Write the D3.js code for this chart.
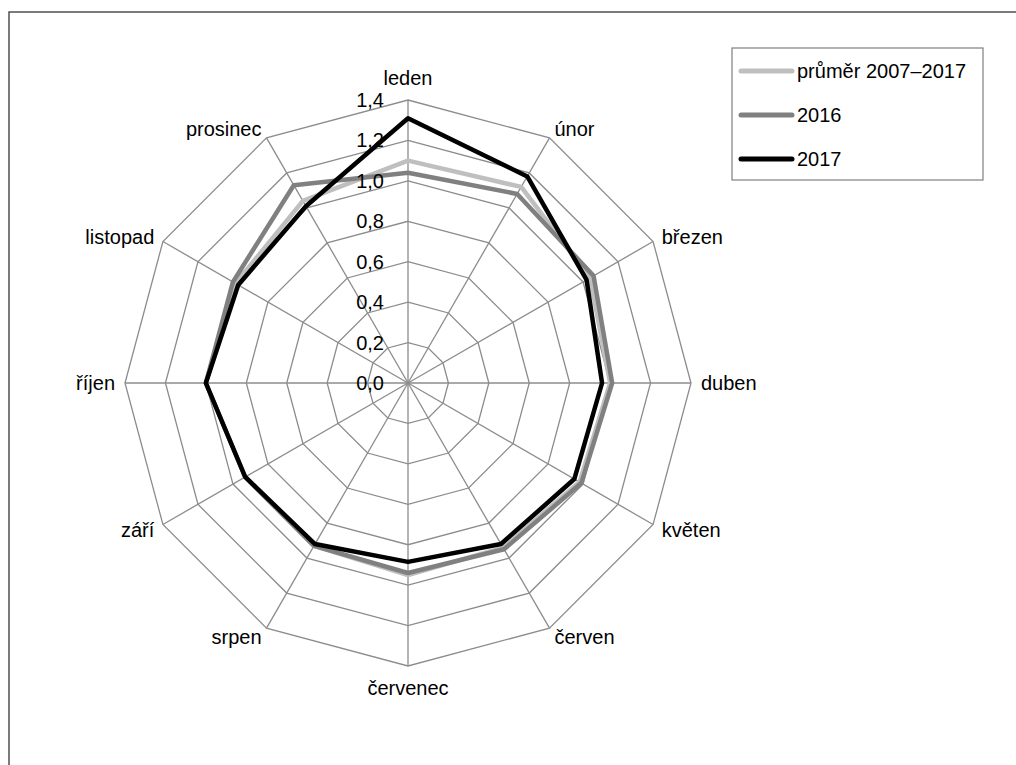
<!DOCTYPE html>
<html>
<head>
<meta charset="utf-8">
<script src="https://cdn.jsdelivr.net/npm/d3@7"></script>
<style>
  body { margin: 0; background: #fff; }
  text { font-family: "Liberation Sans", Arial, sans-serif; fill: #000; }
</style>
</head>
<body>
<div id="chart"></div>
<script>
const months = ["leden", "únor", "březen", "duben", "květen", "červen", "červenec", "srpen", "září", "říjen", "listopad", "prosinec"]
const seriesNames = ["průměr 2007–2017", "2016", "2017"]
const avgValues = [1.10, 1.12, 1.04, 1.00, 0.98, 0.94, 0.95, 0.93, 0.93, 1.00, 0.985, 1.04]
const values2016 = [1.04, 1.08, 1.06, 1.01, 0.99, 0.95, 0.94, 0.93, 0.93, 1.00, 1.00, 1.13]
const values2017 = [1.31, 1.18, 1.02, 0.96, 0.95, 0.92, 0.885, 0.92, 0.93, 1.00, 0.97, 1.01]
const tickValues = [0, 0.2, 0.4, 0.6, 0.8, 1.0, 1.2, 1.4]

const colors = ["#bfbfbf", "#808080", "#000000"]
const allSeries = [avgValues, values2016, values2017]

const width = 1016, height = 765
const cx = 408, cy = 383

const fmt = d3.formatLocale({ decimal: ",", thousands: " ", grouping: [3], currency: ["", " Kč"] }).format(".1f")

const svg = d3.select('#chart').append('svg')
  .attr('width', width)
  .attr('height', height)

// outer frame (runs off the page at right and bottom)
svg.append('rect')
  .attr('x', 9).attr('y', 12)
  .attr('width', 1100).attr('height', 900)
  .attr('fill', '#fff')
  .attr('stroke', '#505050')
  .attr('stroke-width', 1.5)

const r = d3.scaleLinear().domain([0, 1.4]).range([0, 283])
const angle = d3.scaleLinear().domain([0, months.length]).range([0, 2 * Math.PI])

const g = svg.append('g').attr('transform', `translate(${cx},${cy})`)

// rings
const ring = d3.lineRadial()
  .angle((d, i) => angle(i))
  .radius(d => r(d))
  .curve(d3.curveLinearClosed)

g.selectAll('path.ring')
  .data(tickValues.filter(t => t > 0))
  .enter()
  .append('path')
  .attr('class', 'ring')
  .attr('d', t => ring(months.map(() => t)))
  .attr('fill', 'none')
  .attr('stroke', '#8c8c8c')
  .attr('stroke-width', 1.3)

// spokes
g.selectAll('line.spoke')
  .data(months)
  .enter()
  .append('line')
  .attr('class', 'spoke')
  .attr('x1', 0).attr('y1', 0)
  .attr('x2', (d, i) => r(1.4) * Math.sin(angle(i)))
  .attr('y2', (d, i) => -r(1.4) * Math.cos(angle(i)))
  .attr('stroke', '#8c8c8c')
  .attr('stroke-width', 1.3)

// series
g.selectAll('path.series')
  .data(allSeries)
  .enter()
  .append('path')
  .attr('class', 'series')
  .attr('d', d => ring(d))
  .attr('fill', 'none')
  .attr('stroke', (d, i) => colors[i])
  .attr('stroke-width', 4.5)
  .attr('stroke-linejoin', 'round')

// radial tick labels
g.selectAll('text.tick')
  .data(tickValues)
  .enter()
  .append('text')
  .attr('class', 'tick')
  .attr('x', -24)
  .attr('y', d => -r(d))
  .attr('dy', '0.35em')
  .attr('text-anchor', 'end')
  .style('font-size', '20px')
  .text(d => fmt(d))

// category labels
g.selectAll('text.cat')
  .data(months)
  .enter()
  .append('text')
  .attr('class', 'cat')
  .each(function (d, i) {
    const a = angle(i)
    const s = Math.sin(a), c = Math.cos(a)
    const rr = r(1.4) + 10
    const el = d3.select(this)
    el.attr('x', rr * s).attr('y', -rr * c)
    el.attr('text-anchor', Math.abs(s) < 0.01 ? 'middle' : (s > 0 ? 'start' : 'end'))
    if (c > 0.99) el.attr('dy', '-0.25em')
    else if (c < -0.99) el.attr('dy', '0.95em')
    else el.attr('dy', '0.35em')
  })
  .style('font-size', '20px')
  .text(d => d)

// legend
const legend = svg.append('g')
legend.append('rect')
  .attr('x', 732).attr('y', 48)
  .attr('width', 251).attr('height', 132)
  .attr('fill', '#fff')
  .attr('stroke', '#7f7f7f')
  .attr('stroke-width', 1.2)

const ly = d3.scalePoint().domain(seriesNames).range([71, 159])

legend.selectAll('line.key')
  .data(seriesNames)
  .enter()
  .append('line')
  .attr('class', 'key')
  .attr('x1', 741).attr('x2', 792)
  .attr('y1', d => ly(d)).attr('y2', d => ly(d))
  .attr('stroke', (d, i) => colors[i])
  .attr('stroke-width', 5)
  .attr('stroke-linecap', 'round')

legend.selectAll('text.key')
  .data(seriesNames)
  .enter()
  .append('text')
  .attr('class', 'key')
  .attr('x', 797)
  .attr('y', d => ly(d))
  .attr('dy', '0.35em')
  .style('font-size', '20px')
  .text(d => d)
</script>
</body>
</html>
